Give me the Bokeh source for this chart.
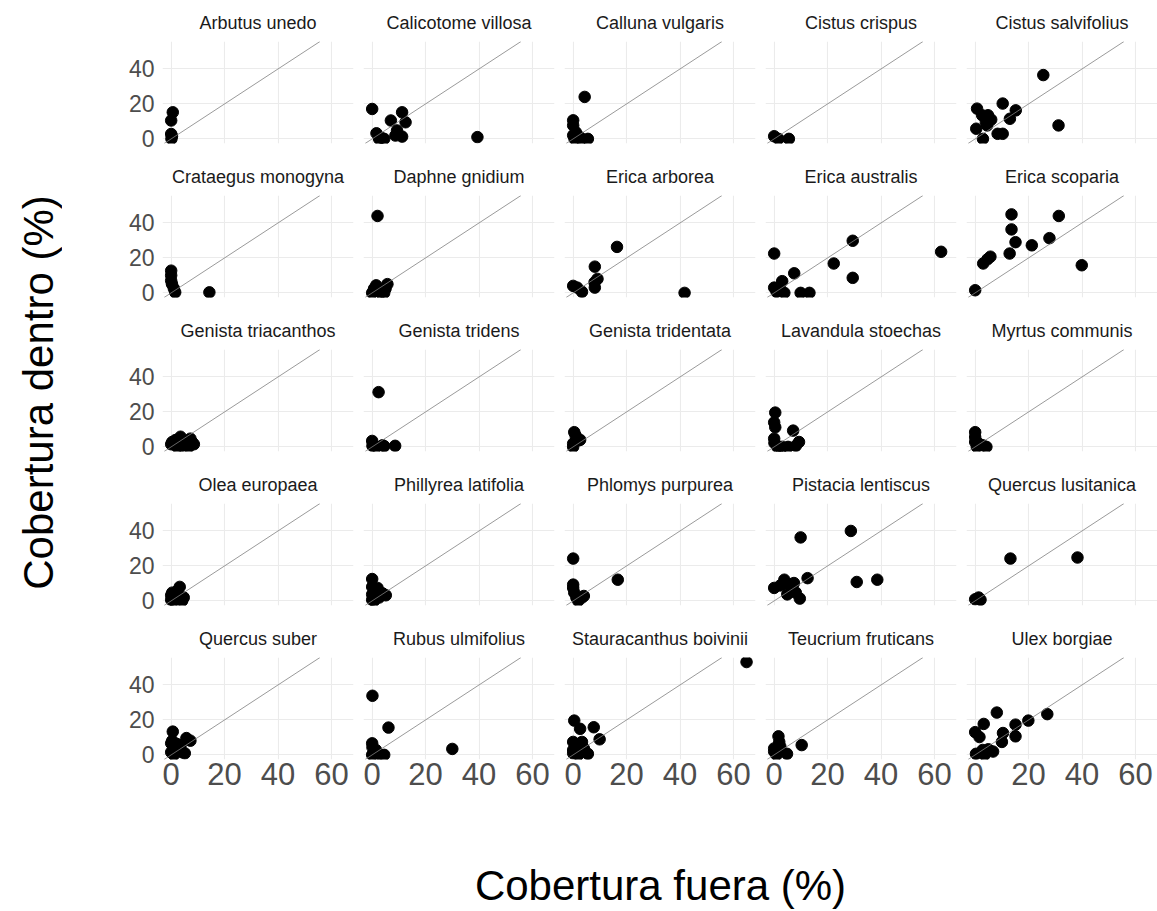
from bokeh.plotting import figure
from bokeh.layouts import gridplot, row, column
from bokeh.models import Range1d, FixedTicker, Slope
from bokeh.embed import file_html
from bokeh.resources import INLINE

# ---- data: cobertura fuera (x) / cobertura dentro (y), per species ----
species = ["Arbutus unedo", "Calicotome villosa", "Calluna vulgaris", "Cistus crispus", "Cistus salvifolius",
           "Crataegus monogyna", "Daphne gnidium", "Erica arborea", "Erica australis", "Erica scoparia",
           "Genista triacanthos", "Genista tridens", "Genista tridentata", "Lavandula stoechas", "Myrtus communis",
           "Olea europaea", "Phillyrea latifolia", "Phlomys purpurea", "Pistacia lentiscus", "Quercus lusitanica",
           "Quercus suber", "Rubus ulmifolius", "Stauracanthus boivinii", "Teucrium fruticans", "Ulex borgiae"]

fuera_arbutus = [0.6, 0, 0, 0.3, 0.1]
dentro_arbutus = [15.2, 10.5, 2.8, 1.5, 0]
fuera_calicotome = [0, 1.6, 2.6, 4.5, 7, 11.2, 12.5, 9.3, 8.7, 11.2, 39.4, 3.5]
dentro_calicotome = [17.1, 3.2, 0, 0, 10.5, 15.2, 9.5, 4.8, 1.9, 1.3, 1, 0.5]
fuera_calluna = [4.3, 0, 0, 0, 0.5, 2.5, 5.5, 1, 3]
dentro_calluna = [24, 10.6, 7.7, 2, 0, 1, 0, 3.8, 0]
fuera_cistus_crispus = [0, 1.6, 5.5]
dentro_cistus_crispus = [1.5, 0, 0]
fuera_cistus_salvifolius = [25.5, 31.2, 10.3, 0.7, 2.6, 4.8, 15.2, 13, 0.4, 4.5, 8.4, 10.3, 2.9, 4, 6]
dentro_cistus_salvifolius = [36.5, 7.7, 20.2, 17.3, 13.5, 13.5, 16.3, 11.5, 5.8, 7.7, 2.9, 2.9, 0, 9.6, 11]
fuera_crataegus = [0, 0, 0, 0.3, 1, 1.5, 14.3]
dentro_crataegus = [12.7, 10, 7, 5, 2.5, 0.3, 0.3]
fuera_daphne = [2, 0, 0.7, 1.5, 3.2, 4.5, 5.7, 5, 2.5]
dentro_daphne = [44, 0, 2.4, 4.3, 0, 0, 5, 2.4, 1]
fuera_erica_arborea = [16.4, 8.1, 9.1, 8, 8.1, 0, 1.5, 3.3, 41.7]
dentro_erica_arborea = [26.3, 15, 8, 6, 3, 4, 3, 0.6, 0]
fuera_erica_australis = [0, 7.5, 22.3, 29.4, 29.4, 62.5, 3, 0, 0.9, 3.8, 9.9, 13.2, 2]
dentro_erica_australis = [22.5, 11.2, 16.8, 29.8, 8.6, 23.5, 6.7, 3, 0.6, 0, 0, 0, 3.4]
fuera_erica_scoparia = [0, 3, 5.7, 4.6, 13.6, 13.6, 15.1, 12.9, 21.2, 27.8, 31.3, 39.9]
dentro_erica_scoparia = [1.5, 16.8, 20.7, 19.2, 44.9, 36.3, 29, 22.5, 27.2, 31.3, 44, 15.8]
fuera_genista_triacanthos = [0, 0.4, 1.6, 3.5, 4.1, 5.4, 6.6, 7.8, 7.2, 2.2, 8.5]
dentro_genista_triacanthos = [1.5, 2.8, 3.9, 5.8, 0.6, 3.4, 0, 2.8, 4.7, 0, 1.5]
fuera_genista_tridens = [2.4, 0, 0.1, 1.6, 3.9, 4.5, 8.6]
dentro_genista_tridens = [31.3, 3.4, 0.6, 0, 0.9, 0.4, 0.6]
fuera_genista_tridentata = [0.4, 0.9, 1.9, 0, 0, 2.6]
dentro_genista_tridentata = [8.4, 6.5, 3.7, 1.9, 0, 4]
fuera_lavandula = [0.4, 0, 0.4, 0, 0.1, 1.2, 3, 5.2, 7.1, 9.3, 8.1, 2]
dentro_lavandula = [19.6, 14, 11.2, 4.7, 2.2, 0, 0, 0, 9.3, 2.8, 0.6, 0]
fuera_myrtus = [0, 0, 0, 1.3, 2.8, 4.2, 0.6]
dentro_myrtus = [8.4, 5.6, 2.8, 1.9, 0.9, 0, 0]
fuera_olea = [3.2, 0, 0.4, 0, 1.6, 4.7, 4.1, 1, 2.2]
dentro_olea = [8, 3.2, 4.7, 0.6, 1.9, 1.9, 0, 0, 5.6]
fuera_phillyrea = [0, 0, 2, 0, 3.9, 5.1, 2.6, 0.7, 0]
dentro_phillyrea = [12.5, 8, 7.4, 3.7, 4.3, 3.2, 1.9, 0, 0.6]
fuera_phlomys = [0, 0, 0, 0.4, 1.2, 3.3, 4, 16.7, 1.9]
dentro_phlomys = [24.2, 9.3, 7.4, 4.7, 1.9, 1.9, 2.8, 12.1, 0]
fuera_pistacia = [9.9, 28.7, 30.9, 38.6, 12.5, 0, 3.8, 5.5, 2.3, 7.4, 4.9, 8.1, 9.6, 6.7]
dentro_pistacia = [36.3, 40, 10.8, 12.1, 13, 7.4, 12.1, 9.3, 8.8, 10.2, 3.7, 4.7, 1.3, 5.6]
fuera_quercus_lusitanica = [13.2, 38.3, 0, 1.3, 2]
dentro_quercus_lusitanica = [24.2, 24.8, 0.9, 1.9, 0.6]
fuera_quercus_suber = [0.6, 0, 0.4, 0, 1, 2.5, 3.5, 5.1, 5.7, 7.2, 4.1, 2.2]
dentro_quercus_suber = [13.3, 6.6, 8.1, 1.5, 0, 3.4, 5.3, 0.9, 9.6, 8.1, 1.5, 6.2]
fuera_rubus = [0.1, 6.1, 30, 0, 0.1, 0.7, 2.4, 4.5, 0, 1.4]
dentro_rubus = [33.8, 15.6, 3.4, 6.6, 4.3, 1.5, 0.6, 0, 0, 2.8]
fuera_stauracanthus = [64.9, 0.4, 2.6, 7.7, 9.9, 0, 0, 1.2, 3.3, 4, 5.5, 1.9, 0]
dentro_stauracanthus = [53.1, 19.6, 14.9, 15.8, 8.9, 7.4, 2.8, 4.7, 7.4, 3.7, 0.6, 0, 0.9]
fuera_teucrium = [1.6, 1.9, 0, 0, 0.9, 4.8, 10.3, 2.3]
dentro_teucrium = [10.6, 7.4, 3.7, 1.9, 0, 0.6, 5.6, 4.7]
fuera_ulex = [8.1, 27, 19.9, 15.1, 3.2, 0, 1.6, 10.4, 15.1, 10, 0.3, 2.8, 4.9, 6.7, 3.5]
dentro_ulex = [24.2, 23.3, 19.6, 17.3, 17.7, 13, 10.2, 12.5, 10.6, 7.4, 0.6, 2.8, 3.2, 1.9, 0]

x_ticks = [0, 20, 40, 60]
y_ticks = [0, 20, 40]
x_title = "Cobertura fuera (%)"
y_title = "Cobertura dentro (%)"

series = [
    (fuera_arbutus, dentro_arbutus), (fuera_calicotome, dentro_calicotome), (fuera_calluna, dentro_calluna),
    (fuera_cistus_crispus, dentro_cistus_crispus), (fuera_cistus_salvifolius, dentro_cistus_salvifolius),
    (fuera_crataegus, dentro_crataegus), (fuera_daphne, dentro_daphne), (fuera_erica_arborea, dentro_erica_arborea),
    (fuera_erica_australis, dentro_erica_australis), (fuera_erica_scoparia, dentro_erica_scoparia),
    (fuera_genista_triacanthos, dentro_genista_triacanthos), (fuera_genista_tridens, dentro_genista_tridens),
    (fuera_genista_tridentata, dentro_genista_tridentata), (fuera_lavandula, dentro_lavandula),
    (fuera_myrtus, dentro_myrtus), (fuera_olea, dentro_olea), (fuera_phillyrea, dentro_phillyrea),
    (fuera_phlomys, dentro_phlomys), (fuera_pistacia, dentro_pistacia),
    (fuera_quercus_lusitanica, dentro_quercus_lusitanica), (fuera_quercus_suber, dentro_quercus_suber),
    (fuera_rubus, dentro_rubus), (fuera_stauracanthus, dentro_stauracanthus), (fuera_teucrium, dentro_teucrium),
    (fuera_ulex, dentro_ulex),
]

FONT = "Liberation Sans"
X_LO, X_HI = -3.25, 68.25
Y_LO, Y_HI = -2.65, 55.7

figs = []
for i, (name, (xs, ys)) in enumerate(zip(species, series)):
    r, c = divmod(i, 5)
    p = figure(frame_width=191, frame_height=102,
               x_range=Range1d(X_LO, X_HI), y_range=Range1d(Y_LO, Y_HI),
               output_backend="svg", toolbar_location=None,
               min_border_left=100 if c == 0 else 5,
               min_border_right=0 if c == 4 else 5,
               min_border_top=41,
               min_border_bottom=40 if r == 4 else 11,
               title=name)
    p.outline_line_color = None
    p.background_fill_color = "white"
    p.border_fill_color = "white"
    p.title.text_font = FONT
    p.title.text_font_size = "18px"
    p.title.text_font_style = "normal"
    p.title.text_color = "#1A1A1A"
    p.title.align = "center"
    p.title.standoff = 18

    p.xaxis.ticker = FixedTicker(ticks=x_ticks)
    p.yaxis.ticker = FixedTicker(ticks=y_ticks)
    p.xgrid.ticker = FixedTicker(ticks=x_ticks)
    p.ygrid.ticker = FixedTicker(ticks=y_ticks)
    for g in (p.xgrid, p.ygrid):
        g.grid_line_color = "#EBEBEB"
        g.grid_line_width = 1.1
        g.minor_grid_line_color = None

    for ax in (p.xaxis, p.yaxis):
        ax.axis_line_color = None
        ax.major_tick_line_color = None
        ax.minor_tick_line_color = None
        ax.major_tick_out = 0
        ax.major_tick_in = 0
        ax.minor_tick_out = 0
        ax.minor_tick_in = 0
        ax.major_label_text_font = FONT
        ax.major_label_text_color = "#4D4D4D"
    p.xaxis.major_label_text_font_size = "31px"
    p.yaxis.major_label_text_font_size = "23px"
    p.xaxis.major_label_standoff = 3
    p.yaxis.major_label_standoff = 8

    if r != 4:
        p.xaxis.visible = False
    if c != 0:
        p.yaxis.visible = False

    p.add_layout(Slope(gradient=1, y_intercept=0, line_color="#808080", line_width=0.8))
    p.scatter(xs, ys, size=11.5, color="black")
    figs.append(p)

grid = gridplot(figs, ncols=5, toolbar_location=None)

# y-axis title column (rotated title on the left of a blank strip)
yfig = figure(width=62, height=799, min_border_left=61, min_border_right=0,
              min_border_top=0, min_border_bottom=15, frame_height=784, frame_width=1,
              title=y_title, title_location="left", x_axis_location=None, y_axis_location=None,
              output_backend="svg", toolbar_location=None)
yfig.outline_line_color = None
yfig.xgrid.visible = False
yfig.ygrid.visible = False
yfig.title.text_font = FONT
yfig.title.text_font_size = "42px"
yfig.title.text_font_style = "normal"
yfig.title.text_color = "black"
yfig.title.align = "center"
yfig.title.standoff = 0

# x-axis title strip below the grid, centred on the middle column
xfig = figure(width=1157, height=112, min_border_left=565, min_border_right=402,
              min_border_top=0, min_border_bottom=56, frame_width=190, frame_height=56,
              title=x_title, title_location="below", x_axis_location=None, y_axis_location=None,
              output_backend="svg", toolbar_location=None)
xfig.outline_line_color = None
xfig.xgrid.visible = False
xfig.ygrid.visible = False
xfig.title.text_font = FONT
xfig.title.text_font_size = "42px"
xfig.title.text_font_style = "normal"
xfig.title.text_color = "black"
xfig.title.align = "center"
xfig.title.standoff = 8

layout = column(row(yfig, grid), xfig)
open("out.html", "w").write(file_html(layout, INLINE))
